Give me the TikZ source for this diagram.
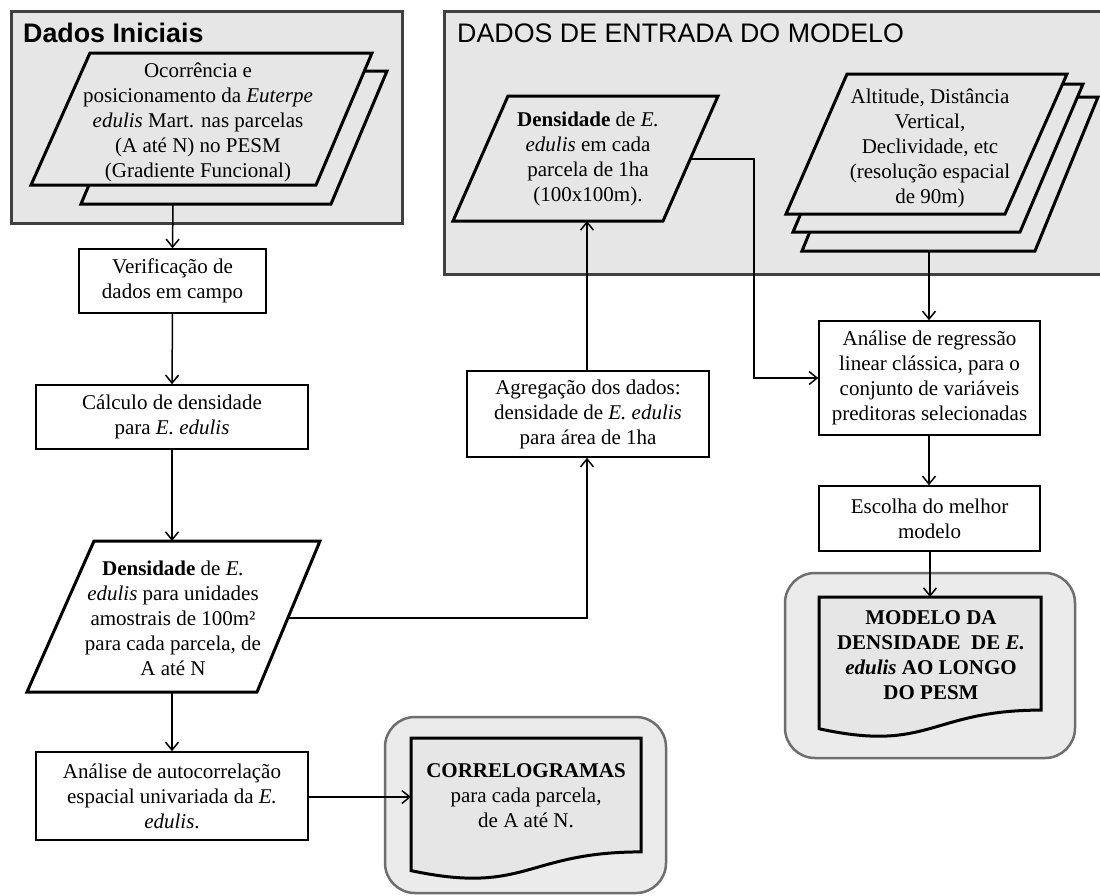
\documentclass[tikz,border=0pt]{standalone}
\usepackage{fontspec}
\setmainfont{Liberation Serif}
\newfontfamily\titlefont{Liberation Sans}
\usepackage{graphicx}
\usetikzlibrary{arrows.meta}
\definecolor{boxgray}{HTML}{E6E6E6}
\definecolor{framegray}{HTML}{404040}
\definecolor{roundframe}{HTML}{6E6E6E}
\definecolor{roundfill}{HTML}{EBEBEB}
\begin{document}
\begin{tikzpicture}[x=1pt,y=-1pt,
  txt/.style={font=\fontsize{21}{25}\selectfont, align=center, inner sep=0pt},
  procbox/.style={draw=black, line width=1.5pt, fill=white, txt},
  conn/.style={line width=1.5pt, -{Straight Barb[length=8pt,width=13pt]}},
  groupbox/.style={draw=framegray, line width=3pt, fill=boxgray},
  parashape/.style={draw=black, line width=3pt, line join=miter},
  docshape/.style={draw=black, line width=3pt, fill=boxgray, line join=miter},
  outerbox/.style={draw=roundframe, line width=2.5pt, fill=roundfill, rounded corners=30pt},
  titletxt/.style={anchor=base west, inner sep=0pt, font=\titlefont\fontsize{26.8}{30}\selectfont},
]
\useasboundingbox (0,0) rectangle (1100,895);
\fill[white] (0,0) rectangle (1100,895);

% ---------- group boxes ----------
\draw[groupbox] (11,11) rectangle (402,223);
\draw[groupbox] (444,11) rectangle (1103,274);
\node[titletxt] (t1) at (23,42) {\bfseries Dados Iniciais};
\node[titletxt] (t2) at (457,42) {DADOS DE ENTRADA DO MODELO};

% ---------- top-left stacked parallelograms ----------
\draw[parashape, fill=boxgray] (137,71) -- (387,71) -- (331,204) -- (81,204) -- cycle;
\draw[parashape, fill=boxgray] (90,53) -- (372,53) -- (316,185) -- (31,185) -- cycle;
\node[txt] (ocor) at (198,122) {Ocorrência e\\posicionamento da \textit{Euterpe}\\\textit{edulis} Mart. nas parcelas\\(A até N) no PESM\\(Gradiente Funcional)};
\coordinate (ocorB) at (173,204);

% ---------- right group: density parallelogram ----------
\draw[parashape, fill=boxgray] (508,96) -- (718,96) -- (663,221) -- (453,221) -- cycle;
\node[txt] (densR) at (588,159) {\textbf{Densidade} de \textit{E.}\\\textit{edulis} em cada\\parcela de 1ha\\(100x100m).};
\coordinate (densRB) at (587,221);
\coordinate (densRR) at (690,159);
\coordinate (bendA) at (754,159);

% ---------- right group: stacked variables ----------
\draw[parashape, fill=boxgray] (865,97) -- (1098,97) -- (1035,251) -- (802,251) -- cycle;
\draw[parashape, fill=boxgray] (856,84) -- (1083,84) -- (1020,232) -- (793,232) -- cycle;
\draw[parashape, fill=boxgray] (847,74) -- (1067,74) -- (1005,214) -- (786,214) -- cycle;
\node[txt] (vars) at (930,148) {Altitude, Distância\\Vertical,\\Declividade, etc\\(resolução espacial\\de 90m)};
\coordinate (varsB) at (929,251);

% ---------- left column ----------
\node[procbox, minimum width=187pt, minimum height=64pt] (ver) at (172.5,281) {Verificação de\\dados em campo};
\node[procbox, minimum width=272pt, minimum height=64pt] (calc) at (172,417) {Cálculo de densidade\\para \textit{E. edulis}};

\draw[parashape, fill=white] (94,541) -- (320,541) -- (257,692) -- (27,692) -- cycle;
\node[txt] (densL) at (173,618) {\textbf{Densidade} de \textit{E.}\\\textit{edulis} para unidades\\amostrais de 100m²\\para cada parcela, de\\A até N};
\coordinate (densLT) at (172,541);
\coordinate (densLB) at (172,692);
\coordinate (densLR) at (288,618);
\coordinate (bendB) at (587,618);

\node[procbox, minimum width=272pt, minimum height=88pt] (auto) at (172,796) {Análise de autocorrelação\\espacial univariada da \textit{E.}\\\textit{edulis}.};

% ---------- middle ----------
\node[procbox, minimum width=242pt, minimum height=86pt] (agreg) at (588,414) {Agregação dos dados:\\densidade de \textit{E. edulis}\\para área de 1ha};

% ---------- right column ----------
\node[procbox, minimum width=221pt, minimum height=114pt] (anal) at (929.5,378) {Análise de regressão\\linear clássica, para o\\conjunto de variáveis\\preditoras selecionadas};
\node[procbox, minimum width=221pt, minimum height=65pt] (esc) at (929.5,518.5) {Escolha do melhor\\modelo};

% ---------- outputs ----------
\draw[outerbox] (385,717) rectangle (666,893);
\draw[docshape] (411,738) -- (641,738) -- (641,851.9) .. controls (526,851.9) and (526,895.2) .. (411,870.6) -- cycle;
\node[txt] (corr) at (526,796) {\textbf{CORRELOGRAMAS}\\para cada parcela,\\de A até N.};
\coordinate (corrL) at (411,797);

\draw[outerbox] (785,573) rectangle (1075,758);
\draw[docshape] (819,597) -- (1041,597) -- (1041,710.1) .. controls (930,710.1) and (930,753.1) .. (819,728.7) -- cycle;
\node[txt] (model) at (931,655) {\textbf{MODELO DA}\\\textbf{DENSIDADE\ \ DE \textit{E.}}\\\textbf{\textit{edulis} AO LONGO}\\\textbf{DO PESM}};
\coordinate (modelT) at (930,597);

% ---------- connectors ----------
\draw[conn] (ocorB) -- (ver.north);
\draw[conn] (ver.south) -- (calc.north);
\draw[conn] (calc.south) -- (densLT);
\draw[conn] (densLB) -- (auto.north);
\draw[conn] (auto.east |- corrL) -- (corrL);
\draw[conn] (densLR) -- (bendB) -- (agreg.south -| bendB);
\draw[conn] (agreg.north -| densRB) -- (densRB);
\draw[conn] (densRR) -- (bendA) -- (bendA |- anal.west) -- (anal.west);
\draw[conn] (varsB) -- (varsB |- anal.north);
\draw[conn] (anal.south -| varsB) -- (esc.north -| varsB);
\draw[conn] (esc.south -| modelT) -- (modelT);
\end{tikzpicture}
\end{document}
